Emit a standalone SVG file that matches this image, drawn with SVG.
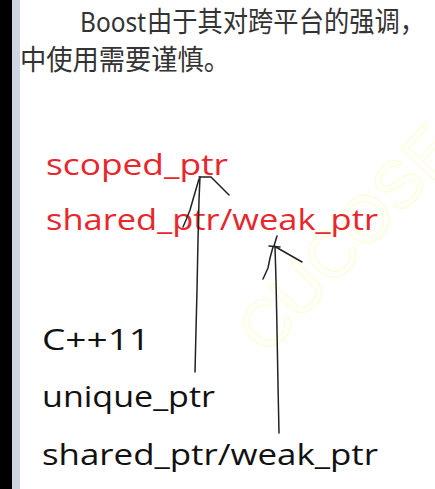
<svg xmlns="http://www.w3.org/2000/svg" width="435" height="489" viewBox="0 0 435 489">
<style>
.cn{font-family:"Noto Sans CJK SC","Noto Sans",sans-serif;font-size:28px;fill:#333}
.lat{font-family:"Open Sans","Noto Sans",sans-serif;font-size:30px}
.red{fill:#e8262c}
.blk{fill:#111}
.ink{fill:none;stroke:#222;stroke-width:1.5;stroke-linecap:round;stroke-linejoin:round}
.wm{font-family:"Liberation Sans",sans-serif;font-size:66px;fill:none;stroke:#fdfdd2;stroke-width:1.1}
</style>
<rect x="0" y="0" width="435" height="489" fill="#ffffff"/>
<rect x="0" y="0" width="12" height="489" fill="#000000"/>
<rect x="12" y="0" width="8" height="489" fill="#cdd4e2"/>
<text class="wm" transform="translate(266,357) rotate(-46.5)">CUCOSE</text>
<g id="intro">
<text class="cn" x="80" y="32" textLength="66" lengthAdjust="spacingAndGlyphs" style="font-family:'Noto Sans','Open Sans',sans-serif;font-size:27px">Boost</text>
<text class="cn" x="147" y="32" textLength="278" lengthAdjust="spacingAndGlyphs">由于其对跨平台的强调，</text>
<text class="cn" x="20" y="70" textLength="210" lengthAdjust="spacingAndGlyphs">中使用需要谨慎。</text>
</g>
<g id="boost-scoped"><text class="lat red" x="46" y="175" textLength="182" lengthAdjust="spacingAndGlyphs">scoped_ptr</text></g>
<g id="boost-shared"><text class="lat red" x="46" y="230" textLength="332" lengthAdjust="spacingAndGlyphs">shared_ptr/weak_ptr</text></g>
<g id="cpp11"><text class="lat blk" x="42" y="350" textLength="108" lengthAdjust="spacingAndGlyphs">C++11</text></g>
<g id="unique"><text class="lat blk" x="42" y="407" textLength="173" lengthAdjust="spacingAndGlyphs">unique_ptr</text></g>
<g id="std-shared"><text class="lat blk" x="42" y="465" textLength="336" lengthAdjust="spacingAndGlyphs">shared_ptr/weak_ptr</text></g>
<g id="connectors">
<path class="ink" d="M195,372 L196,330 L197,290 L198,240 L199,200 L200,177"/>
<path class="ink" d="M199,177 L211,177 L229,195"/>
<path class="ink" d="M199,179 L194,196 L190,210 L186,220 L183,227"/>
<path class="ink" d="M279,433 L278,385 L277,330 L276,280 L275,247"/>
<path class="ink" d="M277,236 L274,246 L302,262"/>
<path class="ink" d="M269,246 L280,247"/>
<path class="ink" d="M273,247 L270,258 L268,268 L263,279"/>
</g>
</svg>
